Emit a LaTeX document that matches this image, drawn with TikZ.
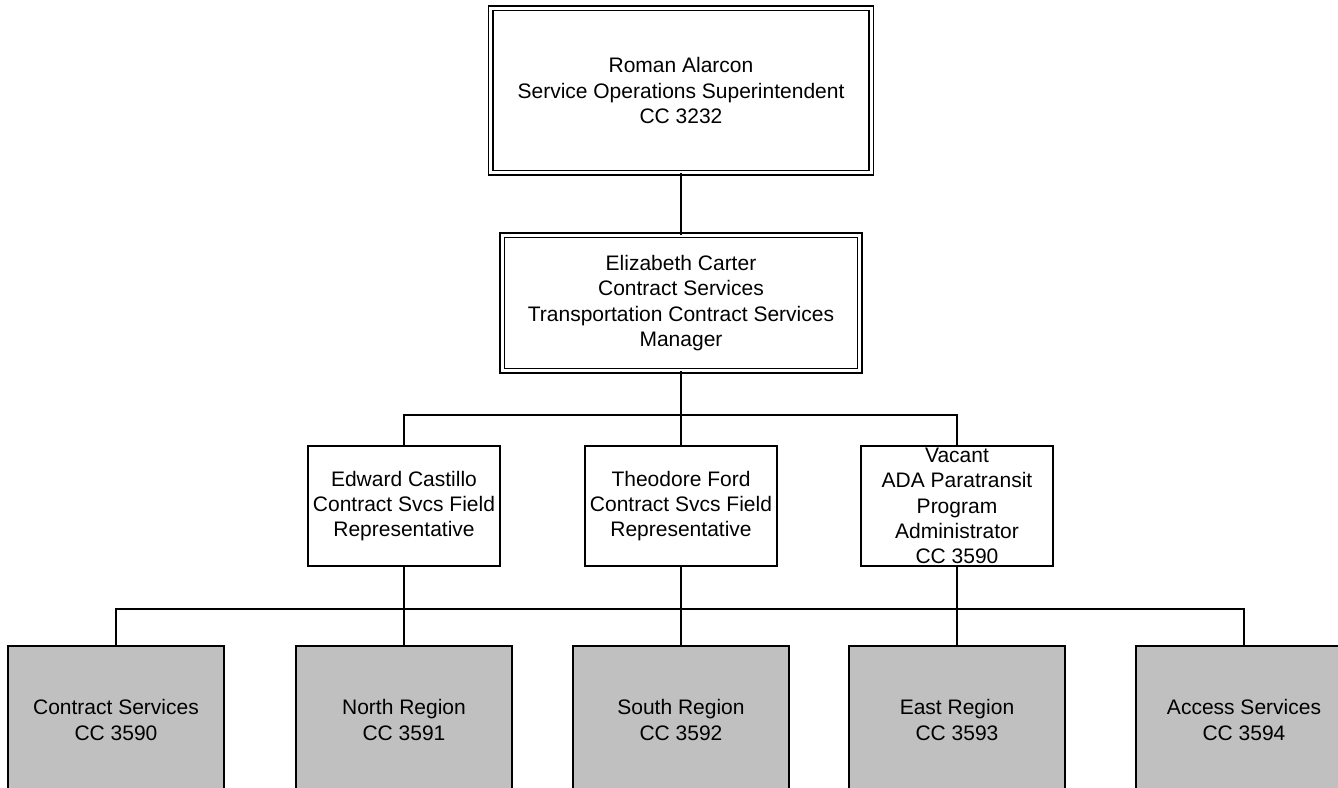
\documentclass[tikz,border=0pt]{standalone}
\usepackage{fontspec}
\setmainfont{Liberation Sans}
\begin{document}
\begin{tikzpicture}[x=1pt,y=-1pt,
  conn/.style={line width=1.3pt},
  box/.style={draw,line width=1.3pt,rectangle,inner sep=0pt,outer sep=0pt},
  dbox/.style={draw,rectangle,inner sep=0pt,outer sep=0pt,double,double distance=3.2pt,line width=1.3pt},
  midbox/.style={box,minimum width=192pt,minimum height=120pt},
  unitbox/.style={box,fill=unitgray,minimum width=216pt,minimum height=148pt},
  txt/.style={align=center,inner sep=0pt,font=\fontsize{21}{25.3}\selectfont}]
\definecolor{unitgray}{HTML}{C0C0C0}
\clip (0,0) rectangle (1338,787);
\useasboundingbox (0,0) rectangle (1338,787);

% top levels
\node[dbox,minimum width=380.3pt,minimum height=164.3pt] (sup) at (681,90.5) {};
\node[txt] (supT) at (sup.center) {Roman Alarcon\\Service Operations Superintendent\\CC 3232};

\node[dbox,minimum width=357.3pt,minimum height=135.3pt] (mgr) at (681,303) {};
\node[txt] (mgrT) at (mgr.center) {Elizabeth Carter\\Contract Services\\Transportation Contract Services\\Manager};

% middle level
\node[midbox] (m1) at (404,506) {};
\node[midbox] (m2) at (681,506) {};
\node[midbox] (m3) at (957,506) {};
\node[txt] (m1T) at (m1.center) {Edward Castillo\\Contract Svcs Field\\Representative};
\node[txt] (m2T) at (m2.center) {Theodore Ford\\Contract Svcs Field\\Representative};
\node[txt] (m3T) at (m3.center) {Vacant\\ADA Paratransit\\Program\\Administrator\\CC 3590};

% bottom level
\node[unitbox] (b1) at (116,720) {};
\node[unitbox] (b2) at (404,720) {};
\node[unitbox] (b3) at (681,720) {};
\node[unitbox] (b4) at (957,720) {};
\node[unitbox] (b5) at (1244,720) {};
\node[txt] (b1T) at (b1.center) {Contract Services\\CC 3590};
\node[txt] (b2T) at (b2.center) {North Region\\CC 3591};
\node[txt] (b3T) at (b3.center) {South Region\\CC 3592};
\node[txt] (b4T) at (b4.center) {East Region\\CC 3593};
\node[txt] (b5T) at (b5.center) {Access Services\\CC 3594};

% connectors
\coordinate (bus1) at (681,415);
\coordinate (bus2) at (681,609);
\draw[conn] (sup.south) -- (mgr.north);
\draw[conn] (mgr.south) -- (bus1);
\draw[conn] (m1.north) |- (bus1) -| (m3.north);
\draw[conn] (bus1) -- (m2.north);
\draw[conn] (b1.north) |- (bus2) -| (b5.north);
\draw[conn] (m1.south) -- (b2.north);
\draw[conn] (m2.south) -- (b3.north);
\draw[conn] (m3.south) -- (b4.north);
\end{tikzpicture}
\end{document}
